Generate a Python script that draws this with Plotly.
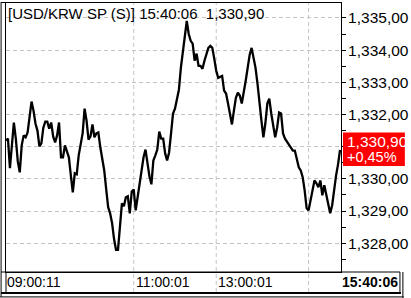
import plotly.graph_objects as go

# ---------------- data ----------------
instrument = "[USD/KRW SP (S)]"
last_time = "15:40:06"
last_price = 1330.90
change_label = "+0,45%"

prices = [
    1331.19, 1331.25, 1330.33, 1331.04, 1331.75, 1331.25, 1330.54, 1330.20, 1331.04, 1331.35,
    1331.29, 1331.44, 1331.90, 1332.40, 1332.12, 1331.72, 1331.50, 1331.01, 1331.10, 1331.59,
    1331.78, 1331.78, 1331.56, 1331.75, 1331.32, 1331.13, 1331.35, 1331.75, 1330.67, 1330.67,
    1331.04, 1330.85, 1330.67, 1330.11, 1329.58, 1330.17, 1330.14, 1330.73, 1331.10, 1331.41,
    1332.18, 1331.81, 1331.22, 1331.32, 1331.69, 1331.29, 1331.41, 1331.44, 1330.98, 1330.57,
    1330.26, 1329.67, 1329.12, 1328.93, 1328.62, 1328.13, 1327.79, 1327.79, 1328.65, 1329.24,
    1329.15, 1329.43, 1329.46, 1328.93, 1329.61, 1329.67, 1329.02, 1329.43, 1329.86, 1330.36,
    1330.67, 1330.91, 1330.48, 1330.08, 1329.83, 1330.57, 1330.73, 1330.91, 1331.47, 1331.25,
    1331.25, 1330.79, 1330.57, 1330.82, 1331.41, 1332.03, 1332.18, 1332.43, 1332.77, 1333.45,
    1333.92, 1334.29, 1334.91, 1334.50, 1334.29, 1334.20, 1333.67, 1333.89, 1333.51, 1333.51,
    1333.42, 1333.67, 1333.89, 1334.07, 1334.13, 1334.07, 1333.73, 1333.36, 1333.14, 1333.17,
    1333.20, 1332.74, 1332.65, 1332.34, 1331.97, 1331.69, 1332.12, 1332.52, 1332.68, 1332.59,
    1332.34, 1332.65, 1333.05, 1333.45, 1333.85, 1334.07, 1333.73, 1333.45, 1332.96, 1332.28,
    1331.81, 1331.29, 1331.72, 1332.34, 1332.49, 1332.03, 1331.59, 1331.29, 1331.59, 1332.06,
    1332.03, 1331.41, 1331.25, 1331.16, 1331.07, 1331.01, 1330.88, 1330.88, 1330.57, 1330.36,
    1330.26, 1330.05, 1329.64, 1329.09, 1329.02, 1329.33, 1329.64, 1329.95, 1329.86, 1329.74,
    1329.95, 1329.49, 1329.80, 1329.49, 1329.18, 1328.93, 1329.18, 1329.71, 1330.11, 1330.45,
    1330.90,
]

time_tick_idx = [0, 65, 107, 154]
time_tick_labels = ["09:00:11", "11:00:01", "13:00:01", ""]

price_ticks = [1328, 1329, 1330, 1331, 1332, 1333, 1334, 1335]
price_tick_labels = ["1,328,00", "1,329,00", "1,330,00", "", "1,332,00", "1,333,00", "1,334,00", "1,335,00"]

# ---------------- layout helpers ----------------
W, H = 411, 298
L, R, T, B = 6, 347, 2, 272   # plot area in pixels


def px(x):
    return (x - L) / (R - L)


def py(y):
    return (B - y) / (B - T)


def fmt_price(v):
    s = f"{v:,.2f}"
    return s.replace(".", ",")


FONT = "Liberation Sans, Arial, sans-serif"
GRID = "#c4c4c4"

fig = go.Figure()
fig.add_trace(go.Scatter(
    x=list(range(len(prices))), y=prices, mode="lines",
    line=dict(color="black", width=2.3), hoverinfo="skip", showlegend=False,
))

n = len(prices)
fig.update_layout(
    width=W, height=H,
    margin=dict(l=L, r=W - R, t=T, b=H - B, pad=0),
    paper_bgcolor="white", plot_bgcolor="white",
    showlegend=False,
    font=dict(family=FONT, size=14, color="black"),
    xaxis=dict(
        range=[0, n - 0.5], showgrid=False, zeroline=False, showticklabels=False,
        ticks="", showline=True, mirror=True, linecolor="black", linewidth=1,
        fixedrange=True,
    ),
    yaxis=dict(
        range=[1335 - (B - 17) / 32.3, 1335 + (17 - T) / 32.3],
        side="right", tickmode="array", tickvals=price_ticks, ticktext=price_tick_labels,
        ticks="outside", ticklen=4, tickcolor="black", tickwidth=1,
        ticklabelstandoff=-1,
        tickfont=dict(family=FONT, size=15.5, color="black"),
        showline=True, mirror=True, linecolor="black", linewidth=1,
        showgrid=True, gridcolor=GRID, griddash="4px,3px", gridwidth=1,
        zeroline=False, fixedrange=True,
        minor=dict(tickmode="linear", tick0=1327.5, dtick=1, ticks="outside",
                   ticklen=4, tickcolor="black", showgrid=False),
    ),
)

shapes = []
# vertical dashed time grid lines (through plot and time row)
for idx in time_tick_idx[1:]:
    shapes.append(dict(type="line", xref="x", yref="paper", x0=idx, x1=idx,
                       y0=py(292), y1=1, line=dict(color=GRID, width=1, dash="4px,3px"),
                       layer="below"))
# frames
black = dict(color="black", width=1)
shapes += [
    dict(type="line", xref="paper", yref="paper", x0=px(1), x1=px(1), y0=py(1), y1=py(297), line=black),
    dict(type="line", xref="paper", yref="paper", x0=px(1), x1=px(348), y0=py(1.5), y1=py(1.5), line=black),
    dict(type="line", xref="paper", yref="paper", x0=px(6), x1=px(6), y0=py(272), y1=py(293), line=black),
    dict(type="line", xref="paper", yref="paper", x0=px(1), x1=px(407), y0=py(272), y1=py(272), line=black),
    dict(type="line", xref="paper", yref="paper", x0=px(407), x1=px(407), y0=py(272), y1=py(293), line=black),
    dict(type="line", xref="paper", yref="paper", x0=px(1), x1=px(408), y0=py(293), y1=py(293),
         line=dict(color="black", width=2)),
    dict(type="line", xref="paper", yref="paper", x0=px(0), x1=px(411), y0=py(297), y1=py(297), line=black),
    dict(type="line", xref="paper", yref="paper", x0=px(410), x1=px(410), y0=py(272), y1=py(298), line=black),
    # red last-price box
    dict(type="rect", xref="paper", yref="paper", x0=px(349), x1=px(412), y0=py(165.5), y1=py(132),
         fillcolor="#ff0000", line=dict(width=0), layer="above"),
]
fig.update_layout(shapes=shapes)

ann = []
ann.append(dict(xref="paper", yref="paper", x=px(6), y=py(13), xanchor="left", yanchor="middle",
                text=f"{instrument} {last_time}\u00a0\u00a0{fmt_price(last_price)}",
                showarrow=False, font=dict(family=FONT, size=15, color="black")))
for idx, lab in zip(time_tick_idx, time_tick_labels):
    if lab:
        ann.append(dict(xref="x", yref="paper", x=idx, y=py(282.5), xanchor="left", yanchor="middle",
                        text=lab, showarrow=False, xshift=-1 if idx == 0 else 0,
                        font=dict(family=FONT, size=14, color="black")))
ann.append(dict(xref="paper", yref="paper", x=px(407), y=py(282.5), xanchor="right", yanchor="middle",
                text=f"<b>{last_time}</b>", showarrow=False,
                font=dict(family=FONT, size=14, color="black")))
ann.append(dict(xref="paper", yref="paper", x=px(351), y=py(141), xanchor="left", yanchor="middle",
                text=fmt_price(last_price), showarrow=False,
                font=dict(family=FONT, size=15.5, color="white")))
ann.append(dict(xref="paper", yref="paper", x=px(379), y=py(157), xanchor="center", yanchor="middle",
                text=change_label, showarrow=False,
                font=dict(family=FONT, size=14.5, color="white")))
fig.update_layout(annotations=ann)

fig.write_html("out.html")
